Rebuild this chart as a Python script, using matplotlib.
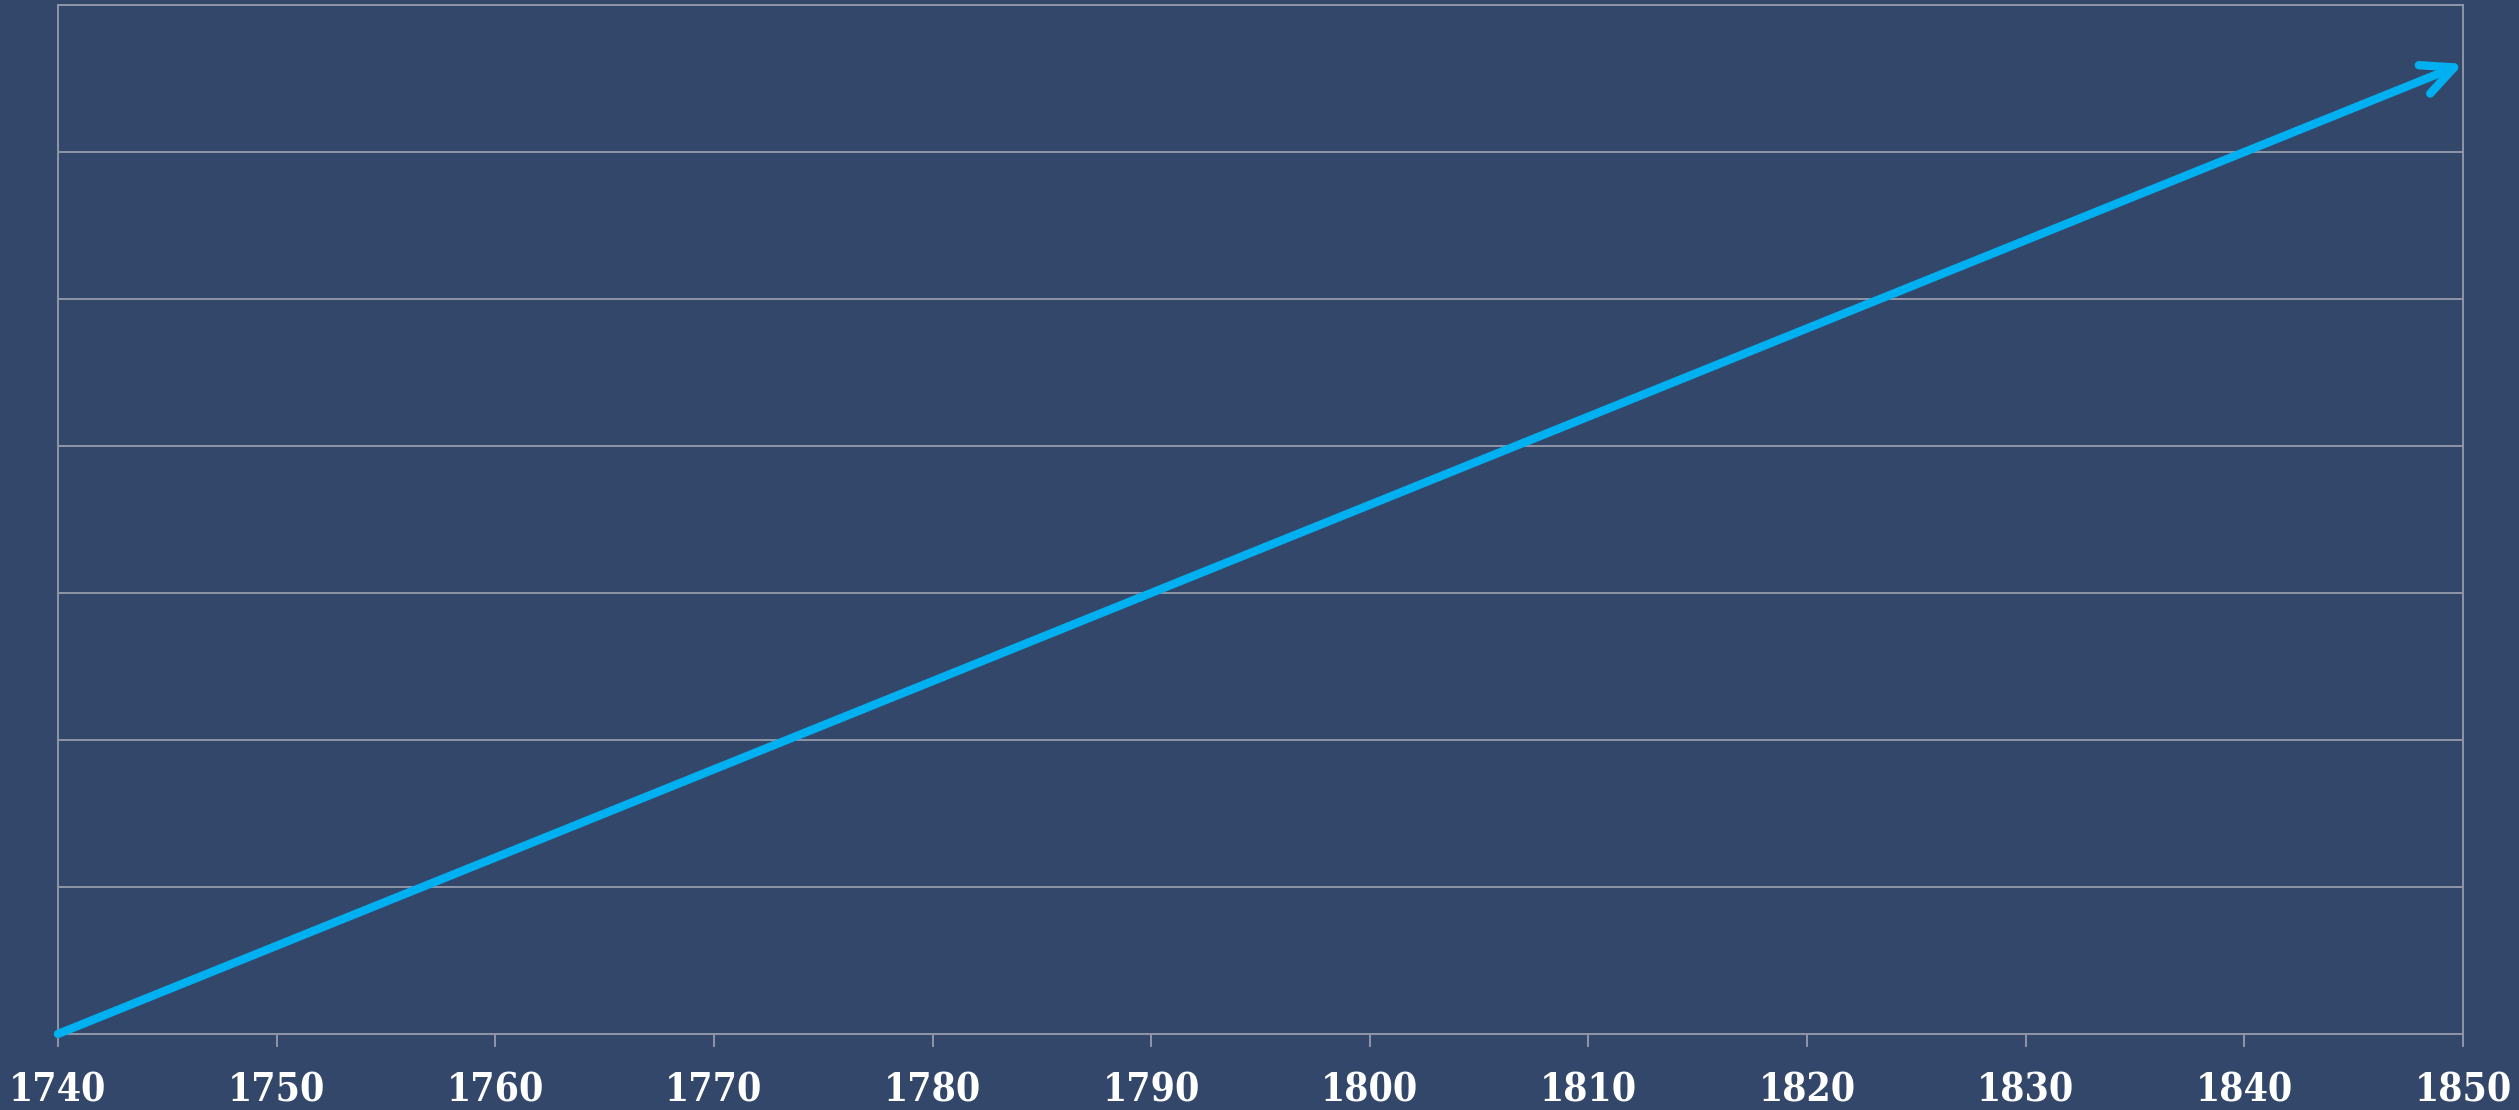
import matplotlib.pyplot as plt
import numpy as np

# data
years = [1740, 1850]
values = [0, 6.6]
xticks = list(range(1740, 1851, 10))
yticks = list(range(0, 8))

bg = '#33476A'
gridc = '#8E96A7'
linec = '#00B0F0'

fig = plt.figure(figsize=(25.19, 11.10), dpi=100, facecolor=bg)
ax = fig.add_axes([0.0230, 0.0685, 0.9548, 0.927])
ax.set_facecolor(bg)

ax.set_xlim(1740, 1850)
ax.set_ylim(0, 7)
ax.set_xticks(xticks)
ax.set_yticks(yticks)
ax.set_yticklabels([])
ax.tick_params(axis='y', length=0)
ax.tick_params(axis='x', length=9, width=1.4, color=gridc, pad=18)
ax.grid(axis='y', color=gridc, lw=1.4)
ax.set_axisbelow(True)
for s in ax.spines.values():
    s.set_color(gridc)
    s.set_linewidth(1.4)

for lab in ax.get_xticklabels():
    lab.set_fontfamily('DejaVu Serif')
    lab.set_fontstretch('condensed')
    lab.set_fontweight('heavy')
    lab.set_fontsize(28)
    lab.set_color('white')

ax.annotate('', xy=(years[1], values[1]), xytext=(years[0], values[0]),
            arrowprops=dict(arrowstyle='->,head_length=1.15,head_width=0.55',
                            color=linec, lw=6, capstyle='round',
                            joinstyle='round', shrinkA=0, shrinkB=0,
                            mutation_scale=20),
            annotation_clip=False)

fig.savefig('out.png', dpi=100, facecolor=bg)
